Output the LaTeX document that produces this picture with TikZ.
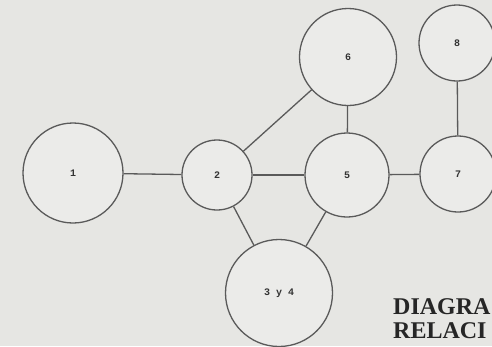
\documentclass[tikz,border=0pt]{standalone}
\usepackage{fontspec}
\newfontfamily\lblfont{Liberation Mono}
\newfontfamily\titlefont{Liberation Serif}
\definecolor{bg}{HTML}{E6E6E3}
\definecolor{bubfill}{HTML}{EBEBE9}
\definecolor{ink}{HTML}{5A5A5A}
\begin{document}
\begin{tikzpicture}[x=1pt,y=-1pt,
  bub/.style={circle,draw=ink,line width=1.3pt,fill=bubfill,inner sep=0pt,font=\lblfont\bfseries\fontsize{10}{11}\selectfont,text=black!80},
  link/.style={draw=ink,line width=1.3pt},
  title/.style={anchor=west,inner sep=0pt,font=\titlefont\bfseries\fontsize{24}{24}\selectfont,text=black!85}]
\useasboundingbox (0,0) rectangle (492,346);
\clip (0,0) rectangle (492,346);
\fill[bg] (0,0) rectangle (492,346);
\node[bub,minimum size=100pt] (n1) at (73,173) {1};
\node[bub,minimum size=70pt] (n2) at (217,175) {2};
\node[bub,minimum size=84pt] (n5) at (347,175) {5};
\node[bub,minimum size=97pt] (n6) at (348,57) {6};
\node[bub,minimum size=76pt] (n8) at (457,43) {8};
\node[bub,minimum size=76pt] (n7) at (458,174) {7};
\node[bub,minimum size=107pt] (n34) at (279,293) {3 y 4};
\draw[link] (n1) -- (n2);
\draw[link] (n2) -- (n5);
\draw[link] (n5) -- (n7);
\draw[link] (n6) -- (n5);
\draw[link] (n8) -- (n7);
\draw[link] (n2) -- (n6);
\draw[link] (n2) -- (n34);
\draw[link] (n5) -- (n34);
\node[title] (t1) at (393,307) {DIAGRA};
\node[title] (t2) at (393,331) {RELACI};
\end{tikzpicture}
\end{document}
